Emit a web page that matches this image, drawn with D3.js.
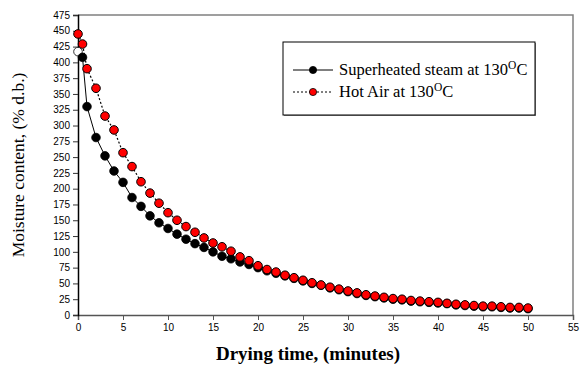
<!DOCTYPE html>
<html>
<head>
<meta charset="utf-8">
<script src="https://cdn.jsdelivr.net/npm/d3@7"></script>
<style>
  body { margin: 0; background: #fff; }
  svg { display: block; }
  .tick text { font-family: Arial, "Liberation Sans", sans-serif; font-size: 10px; fill: #000; }
</style>
</head>
<body>
<svg id="chart"></svg>
<script>
// drying time (minutes)
var steamTime = [0.5, 1, 2, 3, 4, 5, 6, 7, 8, 9, 10, 11, 12, 13, 14, 15, 16, 17, 18, 19, 20,
  21, 22, 23, 24, 25, 26, 27, 28, 29, 30, 31, 32, 33, 34, 35, 36, 37, 38, 39, 40,
  41, 42, 43, 44, 45, 46, 47, 48, 49, 50];
var steamMoisture = [408, 330, 281, 252, 228, 210, 186, 172, 157, 146, 137, 128, 120, 113, 107, 100, 93, 89, 84, 80, 75,
  70, 66, 62, 58, 54, 50, 47, 43, 40, 37, 34, 31, 29, 27, 25, 24, 22, 21, 20, 19,
  18, 16, 15, 14, 13, 13, 12, 11, 11, 10];
// initial moisture (open marker)
var steamStart = [{ t: 0, m: 417 }];

var airTime = [0, 0.5, 1, 2, 3, 4, 5, 6, 7, 8, 9, 10, 11, 12, 13, 14, 15, 16, 17, 18, 19, 20,
  21, 22, 23, 24, 25, 26, 27, 28, 29, 30, 31, 32, 33, 34, 35, 36, 37, 38, 39, 40,
  41, 42, 43, 44, 45, 46, 47, 48, 49, 50];
var airMoisture = [445, 429, 390, 359, 315, 293, 257, 235, 211, 193, 177, 162, 150, 140, 131, 122, 114, 108, 101, 92, 86, 78,
  72, 68, 63, 59, 55, 51, 47.5, 44, 41, 38, 35, 32, 30, 28, 26, 25, 23, 22, 21, 20,
  18.5, 17, 16, 15, 14, 14, 13, 12, 12, 11];

var xTicks = d3.range(0, 56, 5);
var yTicks = d3.range(0, 476, 25);

var width = 581, height = 372;
var margin = { left: 78, right: 8, top: 15, bottom: 57 };

var svg = d3.select("#chart")
    .attr("width", width)
    .attr("height", height);

var x = d3.scaleLinear().domain([0, 55]).range([margin.left, width - margin.right]);
var y = d3.scaleLinear().domain([0, 475]).range([height - margin.bottom, margin.top]);

// frame (top + right)
svg.append("path")
    .attr("d", "M" + x(0) + "," + y(475) + "H" + x(55) + "V" + y(0))
    .attr("fill", "none")
    .attr("stroke", "#808080")
    .attr("stroke-width", 1.5);

var xAxis = svg.append("g")
    .attr("transform", "translate(0," + y(0) + ")")
    .call(d3.axisBottom(x).tickValues(xTicks).tickSize(5).tickPadding(4));
xAxis.select(".domain").attr("stroke", "#555").attr("stroke-width", 1.5);
xAxis.selectAll(".tick line").attr("stroke", "#555");

var yAxis = svg.append("g")
    .attr("transform", "translate(" + x(0) + ",0)")
    .call(d3.axisLeft(y).tickValues(yTicks).tickSize(5).tickPadding(3));
yAxis.select(".domain").attr("stroke", "#000").attr("stroke-width", 1.5);
yAxis.selectAll(".tick line").attr("stroke", "#333");

// axis titles
svg.append("text")
    .attr("transform", "translate(24," + ((y(0) + y(475)) / 2) + ") rotate(-90)")
    .attr("text-anchor", "middle")
    .attr("font-family", "'Liberation Serif', 'Times New Roman', serif")
    .attr("font-size", 17.5)
    .text("Moisture content, (% d.b.)");

svg.append("text")
    .attr("x", 308)
    .attr("y", 360)
    .attr("text-anchor", "middle")
    .attr("font-family", "'Liberation Serif', 'Times New Roman', serif")
    .attr("font-weight", "bold")
    .attr("font-size", 19)
    .text("Drying time, (minutes)");

var steam = steamTime.map(function(t, i) { return { t: t, m: steamMoisture[i] }; });
var air = airTime.map(function(t, i) { return { t: t, m: airMoisture[i] }; });

var line = d3.line()
    .x(function(d) { return x(d.t); })
    .y(function(d) { return y(d.m); });

svg.append("path")
    .datum(steam)
    .attr("fill", "none")
    .attr("stroke", "#000")
    .attr("stroke-width", 1)
    .attr("d", line);

svg.append("path")
    .datum(air)
    .attr("fill", "none")
    .attr("stroke", "#000")
    .attr("stroke-width", 1.2)
    .attr("stroke-dasharray", "2,2")
    .attr("d", line);

svg.append("g").selectAll("circle")
    .data(steamStart)
    .enter().append("circle")
      .attr("cx", function(d) { return x(d.t); })
      .attr("cy", function(d) { return y(d.m); })
      .attr("r", 4.3)
      .attr("fill", "#fff")
      .attr("stroke", "#000")
      .attr("stroke-width", 0.8);

svg.append("g").selectAll("circle")
    .data(steam)
    .enter().append("circle")
      .attr("cx", function(d) { return x(d.t); })
      .attr("cy", function(d) { return y(d.m); })
      .attr("r", 4.3)
      .attr("fill", "#000")
      .attr("stroke", "#000")
      .attr("stroke-width", 0.8);

svg.append("g").selectAll("circle")
    .data(air)
    .enter().append("circle")
      .attr("cx", function(d) { return x(d.t); })
      .attr("cy", function(d) { return y(d.m); })
      .attr("r", 4.3)
      .attr("fill", "#ff0000")
      .attr("stroke", "#000")
      .attr("stroke-width", 1);

// legend
var legend = svg.append("g").attr("transform", "translate(283,42)");
legend.append("rect")
    .attr("x", 1).attr("y", 1)
    .attr("width", 252).attr("height", 73)
    .attr("fill", "#888");
legend.append("rect")
    .attr("width", 252).attr("height", 73)
    .attr("fill", "#fff")
    .attr("stroke", "#000")
    .attr("stroke-width", 1);

var legendItems = [
  { label: "Superheated steam at 130", fill: "#000", dash: null, y: 28 },
  { label: "Hot Air at 130", fill: "#ff0000", dash: "2,2", y: 50 }
];

legendItems.forEach(function(d) {
  legend.append("line")
      .attr("x1", 10).attr("x2", 50)
      .attr("y1", d.y).attr("y2", d.y)
      .attr("stroke", "#000")
      .attr("stroke-width", 1)
      .attr("stroke-dasharray", d.dash);
  legend.append("circle")
      .attr("cx", 30).attr("cy", d.y).attr("r", 3.6)
      .attr("fill", d.fill).attr("stroke", "#000").attr("stroke-width", 0.8);
  var t = legend.append("text")
      .attr("x", 56).attr("y", d.y + 5)
      .attr("font-family", "'Liberation Serif', 'Times New Roman', serif")
      .attr("font-size", 16.5);
  t.append("tspan").text(d.label);
  t.append("tspan").attr("dy", -6).attr("font-size", 11.5).text("O");
  t.append("tspan").attr("dy", 6).text("C");
});
</script>
</body>
</html>
